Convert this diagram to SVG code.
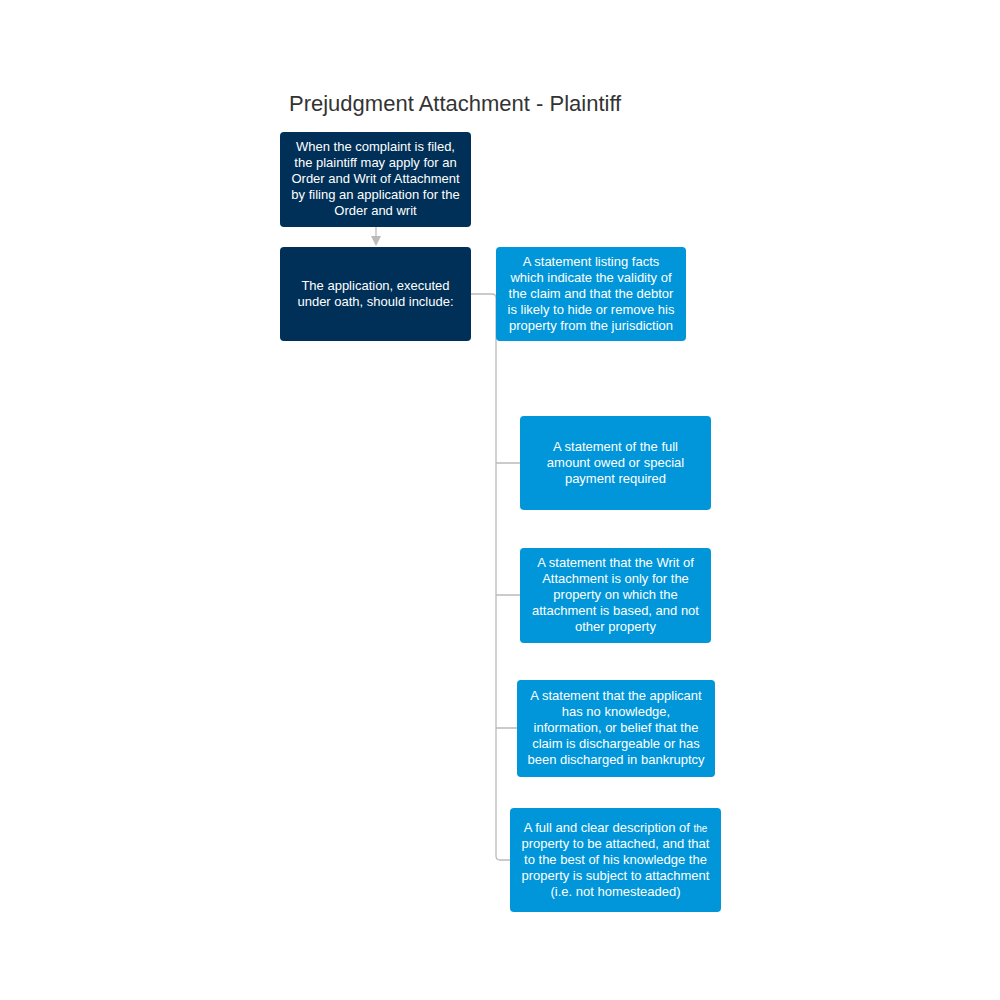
<svg xmlns="http://www.w3.org/2000/svg" width="1000" height="1000" viewBox="0 0 1000 1000">
<style>
.d{fill:#003057}.l{fill:#0096d9}
text{font-family:"Liberation Sans",Arial,sans-serif;font-size:13px;fill:#fff;text-anchor:middle}
.t{font-size:22px;fill:#333;text-anchor:start}
.c{fill:none;stroke:#bbbbbb;stroke-width:1.3}
</style>
<defs><marker id="a" markerWidth="10" markerHeight="10" refX="5" refY="5" orient="auto" markerUnits="userSpaceOnUse"><path d="M0,0L10,5L0,10z" fill="#bbbbbb"/></marker></defs>
<text class="t" x="289" y="111">Prejudgment Attachment - Plaintiff</text>
<g id="connectors">
<path class="c" d="M376,227V241" marker-end="url(#a)"/>
<path class="c" d="M471,294H492Q496,294 496,298V856Q496,860 500,860H510"/>
<path class="c" d="M496,463H520M496,595H520M496,728H517"/>
</g>
<g id="n1"><rect class="d" x="280" y="132" width="191" height="95" rx="4"/>
<text x="375.5" y="151">When the complaint is filed,</text><text x="375.5" y="167">the plaintiff may apply for an</text><text x="375.5" y="183">Order and Writ of Attachment</text><text x="375.5" y="199">by filing an application for the</text><text x="375.5" y="215">Order and writ</text></g>
<g id="n2"><rect class="d" x="280" y="247" width="191" height="94" rx="4"/>
<text x="375.5" y="290">The application, executed</text><text x="375.5" y="306">under oath, should include:</text></g>
<g id="c1"><rect class="l" x="496" y="247" width="190" height="94" rx="4"/>
<text x="591" y="266">A statement listing facts</text><text x="591" y="282">which indicate the validity of</text><text x="591" y="298">the claim and that the debtor</text><text x="591" y="314">is likely to hide or remove his</text><text x="591" y="330">property from the jurisdiction</text></g>
<g id="c2"><rect class="l" x="520" y="416" width="191" height="94" rx="4"/>
<text x="615.5" y="451">A statement of the full</text><text x="615.5" y="467">amount owed or special</text><text x="615.5" y="483">payment required</text></g>
<g id="c3"><rect class="l" x="520" y="548" width="191" height="95" rx="4"/>
<text x="615.5" y="567">A statement that the Writ of</text><text x="615.5" y="583">Attachment is only for the</text><text x="615.5" y="599">property on which the</text><text x="615.5" y="615">attachment is based, and not</text><text x="615.5" y="631">other property</text></g>
<g id="c4"><rect class="l" x="517" y="680" width="198" height="97" rx="4"/>
<text x="616" y="700">A statement that the applicant</text><text x="616" y="716">has no knowledge,</text><text x="616" y="732">information, or belief that the</text><text x="616" y="748">claim is dischargeable or has</text><text x="616" y="764">been discharged in bankruptcy</text></g>
<g id="c5"><rect class="l" x="510" y="808" width="211" height="104" rx="4"/>
<text x="615.5" y="832">A full and clear description of <tspan font-size="10">the</tspan></text><text x="615.5" y="848">property to be attached, and that</text><text x="615.5" y="864">to the best of his knowledge the</text><text x="615.5" y="880">property is subject to attachment</text><text x="615.5" y="896">(i.e. not homesteaded)</text></g>
</svg>
